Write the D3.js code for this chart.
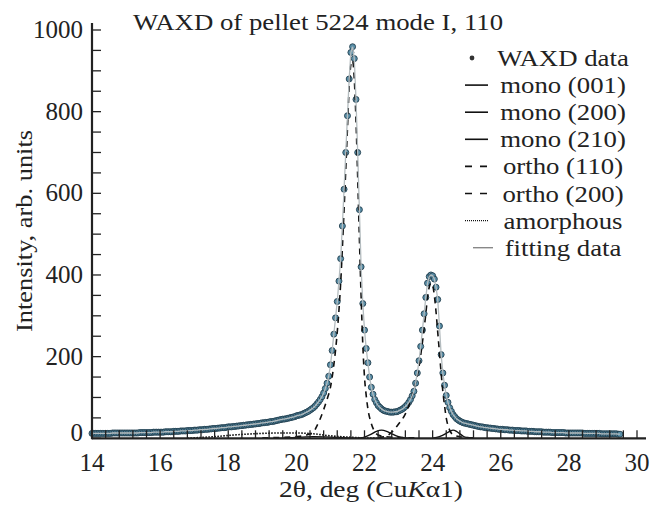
<!DOCTYPE html>
<html>
<head>
<meta charset="utf-8">
<script src="https://cdn.jsdelivr.net/npm/d3@7"></script>
<style>
  html, body { margin: 0; padding: 0; background: #fff; }
  text { font-family: "Liberation Serif", "Times New Roman", Times, serif; }
</style>
</head>
<body>
<div id="chart"></div>
<script>
// WAXD intensities, 14.00 .. 29.50 deg every 0.05 deg (one row per degree)
var waxd = [
  12,12,12,12,12,12,12,12,12,12,12,12,13,13,13,13,13,13,13,13,
  13,13,13,13,13,13,13,13,14,14,14,14,14,14,14,14,15,15,15,15,
  15,15,15,16,16,16,16,16,17,17,17,17,18,18,18,18,19,19,19,19,
  20,20,20,21,21,21,22,22,22,23,23,24,24,24,25,25,26,26,26,27,
  28,28,28,29,29,30,30,31,31,32,32,33,33,34,34,35,35,36,36,37,
  38,38,39,39,40,41,41,42,43,44,45,46,47,47,48,49,50,51,52,53,
  55,56,57,58,60,62,64,66,69,72,75,79,84,89,95,102,111,122,135,152,
  180,215,255,295,335,385,440,520,610,700,790,880,945,959,930,830,700,560,420,330,
  265,220,185,150,125,108,95,87,80,76,72,69,67,66,65,64,64,64,65,65,
  67,69,71,74,78,82,88,95,104,115,135,160,190,225,265,305,345,380,396,400,
  398,390,370,340,275,205,160,130,105,88,75,66,58,53,48,45,42,40,38,37,
  36,35,34,33,32,31,30,29,28,28,27,26,26,25,25,24,24,23,23,22,
  22,22,21,21,21,20,20,20,19,19,19,19,18,18,18,18,17,17,17,17,
  16,16,16,16,16,15,15,15,15,15,14,14,14,14,14,14,14,14,13,13,
  13,13,13,13,13,13,13,13,13,12,12,12,12,12,12,12,12,12,12,11,
  11,11,11,11,11,11,11,11,11,10,10
];
var waxdStart = 14, waxdStep = 0.05;

// fitted components (2theta, intensity)
var ortho110X = [19.0,19.5,20.0,20.3,20.5,20.6,20.7,20.8,20.9,21.0,21.1,21.2,21.3,21.4,21.5,21.55,21.6,21.65,21.7,21.75,21.8,21.85,21.9,21.95,22.0,22.05,22.1,22.2,22.3,22.4,22.6,23.0,23.5];
var ortho110Y = [1,2,4,8,15,30,48,70,95,125,180,260,380,560,760,860,915,925,880,780,640,490,350,230,150,105,72,36,16,8,4,2,1];
var ortho200X = [22.4,22.6,22.8,23.0,23.2,23.3,23.4,23.5,23.6,23.7,23.8,23.85,23.9,23.95,24.0,24.05,24.1,24.15,24.2,24.25,24.3,24.35,24.4,24.5,24.6,24.8,25.2];
var ortho200Y = [2,4,15,35,60,80,105,135,175,235,305,345,370,380,375,350,310,260,210,160,115,80,50,20,9,4,1];
var mono001X = [21.8,22.0,22.2,22.35,22.5,22.65,22.8,23.0,23.2,23.4];
var mono001Y = [0,3,10,17,20,17,11,4,1,0];
var mono200X = [24.0,24.2,24.4,24.5,24.6,24.7,24.8,24.9,25.0,25.2];
var mono200Y = [0,4,12,17,20,17,11,5,2,0];
var mono210X = [19.5,20.0,20.5,21.0,21.5,22.0];
var mono210Y = [0,2,4,3,1,0];
var amorphX = [16.8,17.2,17.6,18.0,18.5,19.0,19.5,20.0,20.5,21.0,21.5,22.0,22.5];
var amorphY = [0,2,4,7,10,12,13,13,11,6,3,1,0];

var xLabels = [14,16,18,20,22,24,26,28,30];
var yLabels = [0,200,400,600,800,1000];
var legendNames = ["WAXD data","mono (001)","mono (200)","mono (210)","ortho (110)","ortho (200)","amorphous","fitting data"];
var legendKinds = ["dot","solid","solid","solid","dash","dash","dot-line","fit"];

var W = 663, H = 509;
var FONT = "'Liberation Serif', 'Times New Roman', Times, serif";
var svg = d3.select("#chart").append("svg").attr("width", W).attr("height", H);

var x = d3.scaleLinear().domain([14, 30]).range([92, 637]);
var y = d3.scaleLinear().domain([0, 1000]).range([438.3, 30]);

// stretched serif text, like the scanned figure
function stext(g, px, py, str, size, sx, anchor) {
  return g.append("text")
    .attr("transform", "translate(" + px + "," + py + ") scale(" + sx + ",1)")
    .attr("text-anchor", anchor || "start")
    .attr("font-family", FONT)
    .attr("font-size", size)
    .attr("fill", "#222")
    .text(str);
}

var line = d3.line().x(function(d) { return x(d[0]); }).y(function(d) { return y(d[1]); });
var curve = d3.line().curve(d3.curveMonotoneX).x(function(d) { return x(d[0]); }).y(function(d) { return y(d[1]); });

var pts = waxd.map(function(v, i) { return [waxdStart + i * waxdStep, v]; });

// data dots
svg.append("g").selectAll("circle")
  .data(pts)
  .enter()
  .append("circle")
  .attr("cx", function(d) { return x(d[0]); })
  .attr("cy", function(d) { return y(d[1]); })
  .attr("r", 3)
  .attr("fill", "#5a8fa8")
  .attr("stroke", "#22404f")
  .attr("stroke-width", 0.9);

function comp(xs, ys, dash, w) {
  svg.append("path")
    .datum(xs.map(function(v, i) { return [v, ys[i]]; }))
    .attr("d", curve)
    .attr("fill", "none")
    .attr("stroke", "#111")
    .attr("stroke-width", w)
    .attr("stroke-dasharray", dash);
}
comp(amorphX, amorphY, "1.6,1.4", 1.6);
comp(mono210X, mono210Y, null, 1.3);
comp(mono001X, mono001Y, null, 1.4);
comp(mono200X, mono200Y, null, 1.4);
comp(ortho110X, ortho110Y, "6,5", 1.6);
comp(ortho200X, ortho200Y, "6,5", 1.6);

// fitting curve over the dots
svg.append("path")
  .datum(pts)
  .attr("d", line)
  .attr("fill", "none")
  .attr("stroke", "#b4bcbf")
  .attr("stroke-width", 1.3);

// axes
var axes = svg.append("g").attr("stroke", "#222");
axes.append("line").attr("x1", x(14)).attr("x2", 646).attr("y1", y(0)).attr("y2", y(0)).attr("stroke-width", 2.2);
axes.append("line").attr("x1", x(14)).attr("x2", x(14)).attr("y1", y(0) + 1).attr("y2", 23).attr("stroke-width", 2.2);

var xt = d3.range(0, 41).map(function(i) { return 14 + i * 0.4; });
axes.selectAll(".xt").data(xt).enter().append("line")
  .attr("x1", function(d) { return x(d); }).attr("x2", function(d) { return x(d); })
  .attr("y1", y(0)).attr("y2", y(0) - 8).attr("stroke-width", 1.3);
var yt = d3.range(0, 21).map(function(i) { return i * 50; });
axes.selectAll(".yt").data(yt).enter().append("line")
  .attr("x1", x(14)).attr("x2", x(14) + 9)
  .attr("y1", function(d) { return y(d); }).attr("y2", function(d) { return y(d); })
  .attr("stroke-width", 1.3);

xLabels.forEach(function(v) { stext(svg, x(v), 471, v, 25, 1.0, "middle"); });
yLabels.forEach(function(v) { stext(svg, 83, y(v) + 8 - (v === 0 ? 5 : 0), v, 25, 1.0, "end"); });

// titles
stext(svg, 318, 30, "WAXD of pellet 5224 mode I, 110", 23.5, 1.14, "middle");
var xt2 = svg.append("text")
  .attr("transform", "translate(371,497) scale(1.17,1)")
  .attr("text-anchor", "middle").attr("font-family", FONT).attr("font-size", 23.5).attr("fill", "#222");
xt2.append("tspan").text("2\u03b8, deg (Cu");
xt2.append("tspan").attr("font-style", "italic").text("K");
xt2.append("tspan").text("\u03b11)");
svg.append("text")
  .attr("transform", "translate(32,231) rotate(-90) scale(1.1,1)")
  .attr("text-anchor", "middle").attr("font-family", FONT).attr("font-size", 24).attr("fill", "#222")
  .text("Intensity, arb. units");

// legend
var lg = svg.append("g");
legendNames.forEach(function(name, i) {
  var cy = 58 + i * 27.1;
  var k = legendKinds[i];
  if (k === "dot") {
    lg.append("circle").attr("cx", 472).attr("cy", cy).attr("r", 2.4).attr("fill", "#333");
  } else if (k === "fit") {
    lg.append("line").attr("x1", 473).attr("x2", 493).attr("y1", cy).attr("y2", cy)
      .attr("stroke", "#888").attr("stroke-width", 1.4);
  } else {
    lg.append("line").attr("x1", 465).attr("x2", 488).attr("y1", cy).attr("y2", cy)
      .attr("stroke", "#111")
      .attr("stroke-width", k === "dot-line" ? 1.2 : 1.6)
      .attr("stroke-dasharray", k === "dash" ? "7,8" : (k === "dot-line" ? "1,1" : null));
  }
  stext(lg, 563, cy + 8, name, 23.5, 1.14, "middle");
});
</script>
</body>
</html>
